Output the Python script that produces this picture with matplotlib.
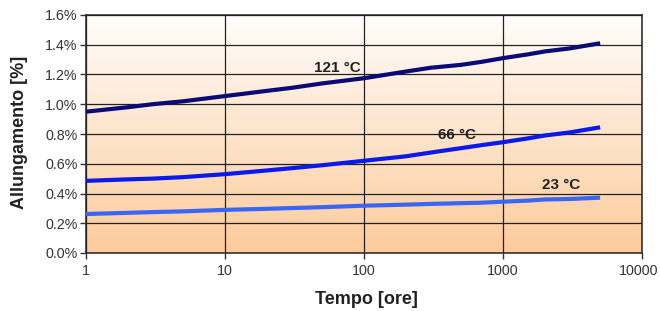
import numpy as np
import matplotlib.pyplot as plt
import matplotlib.transforms as mtransforms
from matplotlib.colors import LinearSegmentedColormap

plt.rcParams['font.family'] = ['Liberation Sans', 'DejaVu Sans']

# Tempo [ore] and elongation [%]
ore = [1, 2, 3, 5, 10, 20, 30, 50, 100, 200, 300, 500, 700, 1000, 1500, 2000, 3000, 5000]
t121 = [0.95, 0.98, 1.00, 1.02, 1.055, 1.09, 1.11, 1.14, 1.175, 1.22, 1.245, 1.265, 1.285, 1.31, 1.335, 1.355, 1.375, 1.41]
t66 = [0.485, 0.495, 0.50, 0.51, 0.53, 0.555, 0.57, 0.59, 0.62, 0.65, 0.675, 0.705, 0.725, 0.745, 0.77, 0.79, 0.81, 0.845]
t23 = [0.262, 0.27, 0.275, 0.28, 0.29, 0.297, 0.302, 0.308, 0.318, 0.325, 0.33, 0.335, 0.338, 0.345, 0.352, 0.36, 0.363, 0.372]

serie = [
    ('121 °C', t121, '#0b0b78', (337, 1.245)),
    ('66 °C', t66, '#0a1ae8', (457, 0.79)),
    ('23 °C', t23, '#3a66f5', (561, 0.46)),
]

fig = plt.figure(figsize=(6.6, 3.11), dpi=100)
ax = fig.add_axes([86/660, 1-253/311, (642-86)/660, (253-15)/311])

# peach gradient background
cmap = LinearSegmentedColormap.from_list('pesca', ['#fdcb9b', '#fffdfb'])
grad = np.linspace(0, 1, 256).reshape(-1, 1)
ax.imshow(grad, aspect='auto', cmap=cmap, origin='lower', extent=[0, 1, 0, 1],
          transform=ax.transAxes, zorder=0)

for nome, vals, col, pos in serie:
    ax.plot(ore, vals, color=col, lw=3, solid_capstyle='butt', zorder=3)

ax.set_xscale('log')
ax.set_xlim(1, 10000)
ax.set_ylim(0, 1.6)
ax.set_xticks([1, 10, 100, 1000, 10000])
ax.set_xticklabels(['1', '10', '100', '1000', '10000'])
ax.minorticks_off()
ax.set_yticks(np.arange(0, 1.61, 0.2))
ax.set_yticklabels([f'{v:.1f}%' for v in np.arange(0, 1.61, 0.2)])
ax.grid(True, color='#222222', lw=0.9, zorder=1)
ax.set_axisbelow(False)
for s in ax.spines.values():
    s.set_color('#333333')
    s.set_linewidth(1.2)
ax.tick_params(colors='#333333', labelsize=10.3, length=4, width=1)
ax.tick_params(axis='x', pad=4)
ax.tick_params(axis='y', pad=2)

# nudge the last x label so it stays inside the figure
last = ax.get_xticklabels()[-1]
last.set_transform(last.get_transform() + mtransforms.ScaledTranslation(-3/100, 0, fig.dpi_scale_trans))

# curve labels
for nome, vals, col, pos in serie:
    x_px, yv = pos
    xv = 10 ** ((x_px - 86) / 139)
    ax.text(xv, yv, nome, fontsize=11, fontweight='bold', color='#222222',
            ha='center', va='center', zorder=4)

fig.text(366/660, 1-300/311, 'Tempo [ore]', fontsize=13, fontweight='bold',
         color='#222222', ha='center', va='center')
fig.text(20/660, 1-132/311, 'Allungamento [%]', fontsize=13, fontweight='bold',
         color='#222222', ha='center', va='center', rotation=90)

fig.savefig('out.png', dpi=100, facecolor='white')
